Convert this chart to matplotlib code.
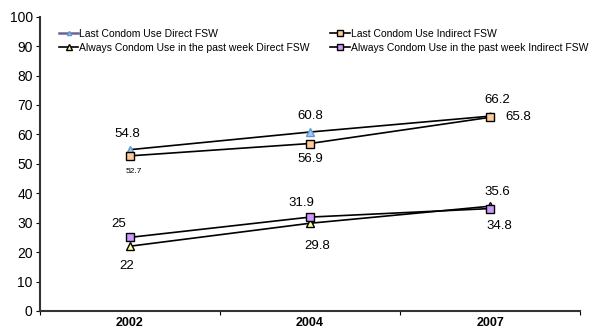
import matplotlib.pyplot as plt

plt.rcParams['font.family'] = ['Liberation Sans', 'DejaVu Sans']

years = ['2002', '2004', '2007']
last_direct = [54.8, 60.8, 66.2]
last_indirect = [52.7, 56.9, 65.8]
always_direct = [22, 29.8, 35.6]
always_indirect = [25, 31.9, 34.8]

x = list(range(len(years)))

fig = plt.figure(figsize=(6, 3.27), dpi=100)
ax = fig.add_axes([0.066, 0.049, 0.901, 0.9])

l1, = ax.plot(x, last_direct, color='black', lw=1.2, marker='^', ms=5.5,
              mfc='#99ccff', mec='#6699cc', zorder=3)
l2, = ax.plot(x, last_indirect, color='black', lw=1.2, marker='s', ms=5.5,
              mfc='#ffcc99', mec='black', zorder=3)
l3, = ax.plot(x, always_direct, color='black', lw=1.2, marker='^', ms=5.5,
              mfc='#ffff99', mec='black', zorder=3)
l4, = ax.plot(x, always_indirect, color='black', lw=1.2, marker='s', ms=5.5,
              mfc='#cc99ff', mec='black', zorder=3)

# value labels: (text, x index, y value, offset in points, ha, va, size)
fs = 9.5
labels_spec = [
    ('54.8', 0, last_direct[0], (-2, 7), 'center', 'bottom', fs),
    ('60.8', 1, last_direct[1], (0, 7), 'center', 'bottom', fs),
    ('66.2', 2, last_direct[2], (5, 7), 'center', 'bottom', fs),
    ('52.7', 0, last_indirect[0], (3, -9), 'center', 'top', 6),
    ('56.9', 1, last_indirect[1], (0, -7), 'center', 'top', fs),
    ('65.8', 2, last_indirect[2], (11, 0), 'left', 'center', fs),
    ('25', 0, always_indirect[0], (-8, 5), 'center', 'bottom', fs),
    ('31.9', 1, always_indirect[1], (-6, 6), 'center', 'bottom', fs),
    ('35.6', 2, always_direct[2], (5, 6), 'center', 'bottom', fs),
    ('22', 0, always_direct[0], (-2, -10), 'center', 'top', fs),
    ('29.8', 1, always_direct[1], (5, -12), 'center', 'top', fs),
    ('34.8', 2, always_indirect[2], (7, -8), 'center', 'top', fs),
]
for txt, i, v, off, ha, va, size in labels_spec:
    ax.annotate(txt, (i, v), xytext=off, textcoords='offset points',
                ha=ha, va=va, fontsize=size)

ax.set_xlim(-0.5, 2.5)
ax.set_ylim(0, 100)
ax.set_yticks(range(0, 101, 10))
ax.tick_params(axis='y', labelsize=10, length=3, width=0.8, pad=2)
ax.set_xticks(x)
ax.set_xticklabels(years, fontweight='bold', fontsize=9)
ax.tick_params(axis='x', length=0, pad=4)
ax.set_xticks([-0.5, 0.5, 1.5, 2.5], minor=True)
ax.tick_params(axis='x', which='minor', length=3, width=0.8)

for s in ['top', 'right']:
    ax.spines[s].set_visible(False)
for s in ['left', 'bottom']:
    ax.spines[s].set_linewidth(1.5)
    ax.spines[s].set_color('#333333')

leg_line, = ax.plot([], [], color='#666699', lw=1.8, marker='^', ms=4,
                    mfc='#99ccff', mec='#6699cc')
handles = [leg_line, l3, l2, l4]
names = ['Last Condom Use Direct FSW',
         'Always Condom Use in the past week Direct FSW',
         'Last Condom Use Indirect FSW',
         'Always Condom Use in the past week Indirect FSW']
ax.legend(handles, names, ncol=2, loc='upper left', bbox_to_anchor=(0.018, 0.99),
          frameon=False, fontsize=7.5, handlelength=1.9, handletextpad=0.05,
          columnspacing=2.0, labelspacing=0.35, markerscale=0.75)

fig.savefig('out.png', dpi=100)
